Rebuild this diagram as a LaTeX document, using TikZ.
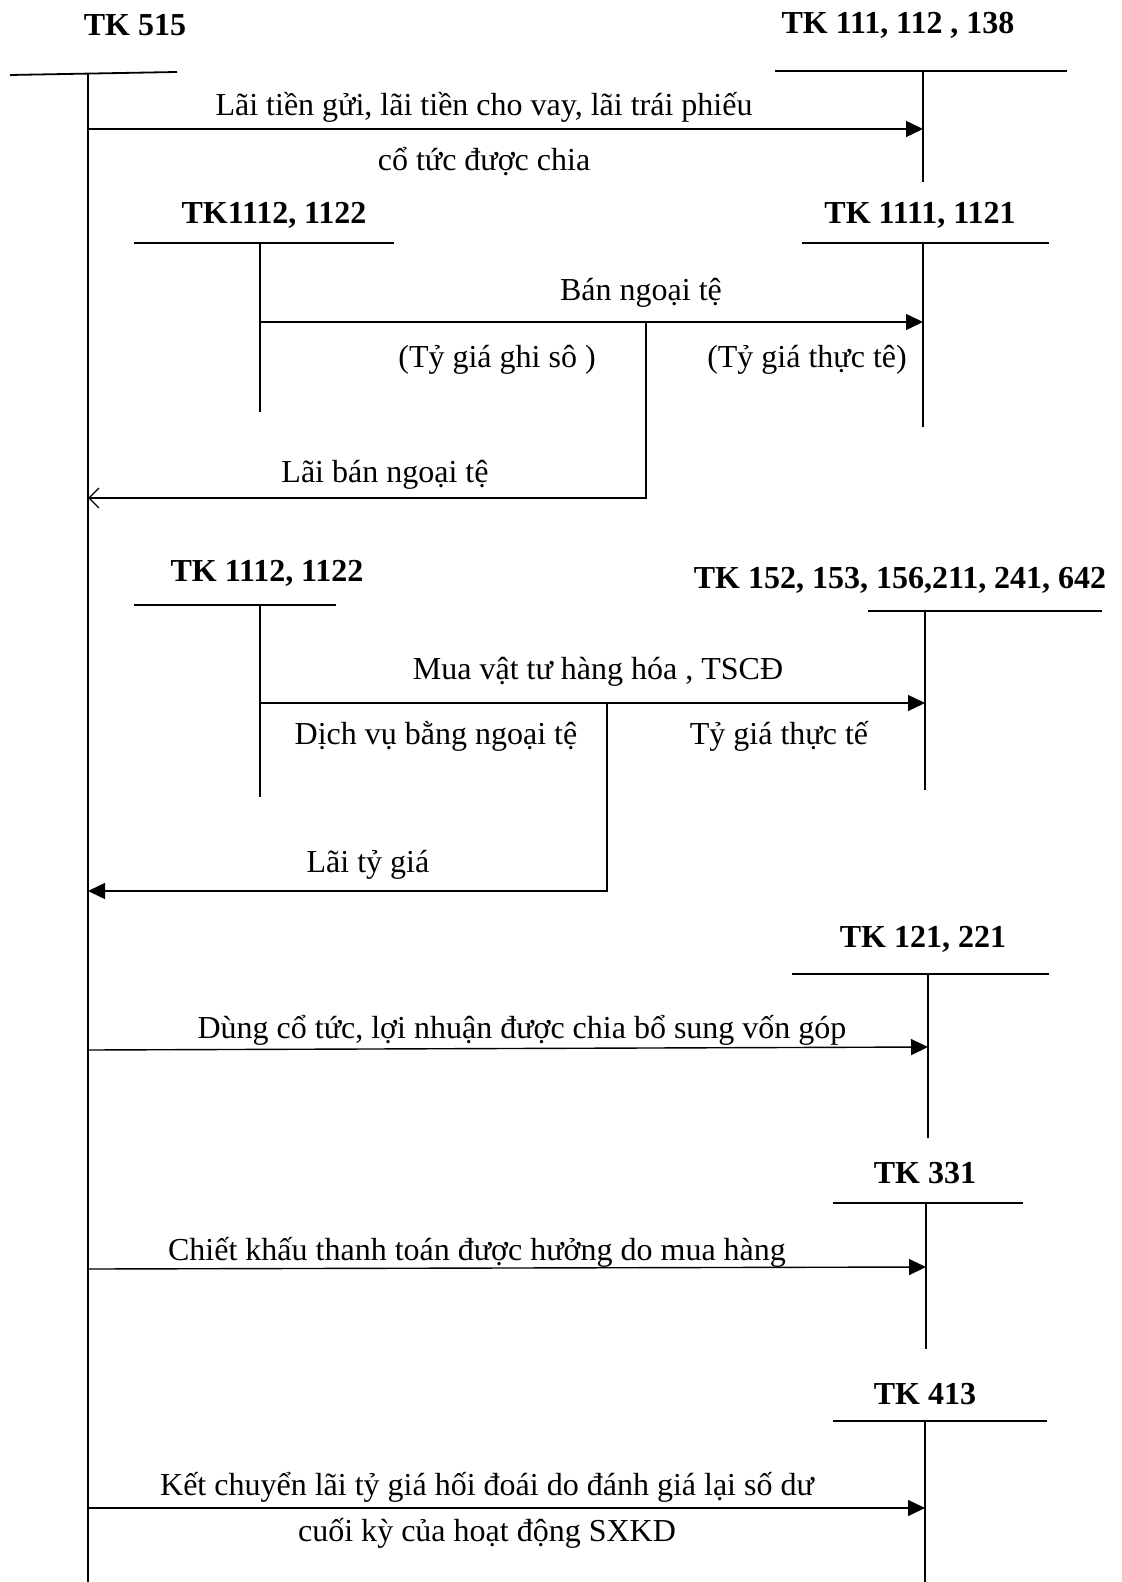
\documentclass[tikz,border=0pt]{standalone}
\usepackage{fontspec}
\setmainfont{Liberation Serif}
\usetikzlibrary{arrows.meta}

\begin{document}
\begin{tikzpicture}[
    x=0.5pt, y=-0.5pt,
    tbar/.style={line width=0.9pt},
    tstem/.style={line width=0.7pt},
    flow/.style={line width=0.7pt, -{Triangle[length=8.5pt, width=8pt]}},
    openflow/.style={line width=0.7pt, -{Straight Barb[length=5pt, width=10pt]}},
    acct/.style={font=\fontsize{16}{19}\selectfont\bfseries},
    note/.style={font=\fontsize{16}{19}\selectfont},
]
\useasboundingbox (0,0) rectangle (1122,1582);

% =============================================
% TK 515 – main account on the left
% =============================================
\node[acct] (tk515) at (135,25) {TK 515};
\draw[tbar] (10,75) -- (177,72);
\coordinate (m0) at (88,74);
\coordinate (m9) at (88,1582);
\draw[tstem] (m0) -- (m9);

% =============================================
% Block 1: interest, dividends
% =============================================
\node[acct] (tk111) at (898,25) {TK 111, 112 , 138};
\draw[tbar] (775,71) -- (1067,71);
\draw[tstem] (923,71) -- (923,182);

\coordinate (m1) at (88,129);
\coordinate (r1) at (923,129);
\draw[flow] (m1) -- (r1);
\node[note] (lai) at (484,107) {Lãi tiền gửi, lãi tiền cho vay, lãi trái phiếu};
\node[note] (cotuc) at (484,162) {cổ tức được chia};

% =============================================
% Block 2: selling foreign currency
% =============================================
\node[acct] (tk1112a) at (274,215) {TK1112, 1122};
\draw[tbar] (134,243) -- (394,243);
\draw[tstem] (260,243) -- (260,412);

\node[acct] (tk1111) at (920,215) {TK 1111, 1121};
\draw[tbar] (802,243) -- (1049,243);
\draw[tstem] (923,243) -- (923,427);

\coordinate (l2) at (260,322);
\coordinate (j2) at (646,322);
\coordinate (r2) at (923,322);
\coordinate (m2) at (88,498);
\draw[flow] (l2) -- (r2);
\draw[openflow] (j2) |- (m2);

\node[note] (ban) at (641,293) {Bán ngoại tệ};
\node[note] (ghiso) at (497,360) {(Tỷ giá ghi sô )};
\node[note] (thucte1) at (807,360) {(Tỷ giá thực tê)};
\node[note] (laiban) at (385,475) {Lãi bán ngoại tệ};

% =============================================
% Block 3: buying goods in foreign currency
% =============================================
\node[acct] (tk1112b) at (267,573) {TK 1112, 1122};
\draw[tbar] (134,605) -- (336,605);
\draw[tstem] (260,605) -- (260,797);

\node[acct] (tk152) at (900,580) {TK 152, 153, 156,211, 241, 642};
\draw[tbar] (868,611) -- (1102,611);
\draw[tstem] (925,611) -- (925,790);

\coordinate (l3) at (260,703);
\coordinate (j3) at (607,703);
\coordinate (r3) at (925,703);
\coordinate (m3) at (88,891);
\draw[flow] (l3) -- (r3);
\draw[flow] (j3) |- (m3);

\node[note] (mua) at (598,672) {Mua vật tư hàng hóa , TSCĐ};
\node[note] (dichvu) at (436,736) {Dịch vụ bằng ngoại tệ};
\node[note] (thucte2) at (779,736) {Tỷ giá thực tế};
\node[note] (laity) at (368,865) {Lãi tỷ giá};

% =============================================
% Block 4: TK 121, 221
% =============================================
\node[acct] (tk121) at (923,939) {TK 121, 221};
\draw[tbar] (792,974) -- (1049,974);
\draw[tstem] (928,974) -- (928,1138);

\coordinate (m4) at (88,1050);
\coordinate (r4) at (928,1047);
\draw[flow] (m4) -- (r4);
\node[note] (dung) at (522,1030) {Dùng cổ tức, lợi nhuận được chia bổ sung vốn góp};

% =============================================
% Block 5: TK 331
% =============================================
\node[acct] (tk331) at (925,1173) {TK 331};
\draw[tbar] (833,1203) -- (1023,1203);
\draw[tstem] (926,1203) -- (926,1349);

\coordinate (m5) at (88,1269);
\coordinate (r5) at (926,1267);
\draw[flow] (m5) -- (r5);
\node[note] (chiet) at (477,1252) {Chiết khấu thanh toán được hưởng do mua hàng};

% =============================================
% Block 6: TK 413
% =============================================
\node[acct] (tk413) at (925,1394) {TK 413};
\draw[tbar] (833,1421) -- (1047,1421);
\draw[tstem] (925,1421) -- (925,1582);

\coordinate (m6) at (88,1508);
\coordinate (r6) at (925,1508);
\draw[flow] (m6) -- (r6);
\node[note] (ketchuyen) at (487,1487) {Kết chuyển lãi tỷ giá hối đoái do đánh giá lại số dư};
\node[note] (cuoiky) at (487,1533) {cuối kỳ của hoạt động SXKD};

\end{tikzpicture}
\end{document}
